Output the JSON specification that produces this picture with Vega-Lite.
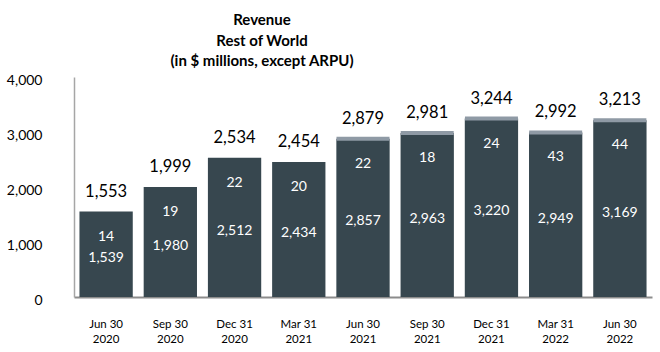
{
  "$schema": "https://vega.github.io/schema/vega-lite/v6.json",
  "width": 578,
  "height": 220,
  "autosize": {"type": "none"},
  "padding": {"left": 74, "top": 77, "right": 8, "bottom": 55},
  "config": {"font": "Lato", "view": {"stroke": null}},
  "title": {
    "text": ["Revenue", "Rest of World", "(in $ millions, except ARPU)"],
    "font": "Lato",
    "fontSize": 15,
    "fontWeight": "bold",
    "lineHeight": 20.5,
    "anchor": "middle",
    "frame": "group",
    "dx": -101,
    "offset": 4,
    "color": "#000000"
  },
  "data": {
    "values": [
      {"q": "Jun 30|2020", "big": 1539, "small": 14, "total": 1553, "cap": false},
      {"q": "Sep 30|2020", "big": 1980, "small": 19, "total": 1999, "cap": false},
      {"q": "Dec 31|2020", "big": 2512, "small": 22, "total": 2534, "cap": false},
      {"q": "Mar 31|2021", "big": 2434, "small": 20, "total": 2454, "cap": false},
      {"q": "Jun 30|2021", "big": 2857, "small": 22, "total": 2879, "cap": true},
      {"q": "Sep 30|2021", "big": 2963, "small": 18, "total": 2981, "cap": true},
      {"q": "Dec 31|2021", "big": 3220, "small": 24, "total": 3244, "cap": true},
      {"q": "Mar 31|2022", "big": 2949, "small": 43, "total": 2992, "cap": true},
      {"q": "Jun 30|2022", "big": 3169, "small": 44, "total": 3213, "cap": true}
    ]
  },
  "encoding": {
    "x": {
      "field": "q",
      "type": "nominal",
      "sort": null,
      "scale": {"paddingInner": 0.17, "paddingOuter": 0.085},
      "axis": {
        "title": null,
        "labelExpr": "split(datum.label, '|')",
        "labelAngle": 0,
        "labelFontSize": 11.5,
        "labelLineHeight": 15,
        "labelPadding": 21,
        "labelColor": "#000000",
        "ticks": false,
        "domainColor": "#8c8c8c",
        "domainWidth": 2
      }
    }
  },
  "layer": [
    {
      "mark": {"type": "bar", "color": "#37474f"},
      "encoding": {
        "y": {
          "field": "total",
          "type": "quantitative",
          "scale": {"domain": [0, 4000], "nice": false},
          "axis": {
            "title": null,
            "values": [0, 1000, 2000, 3000, 4000],
            "labelExpr": "format(datum.value, ',')",
            "grid": false,
            "ticks": false,
            "labelPadding": 32,
            "labelFontSize": 14,
            "labelOffset": 3,
            "labelColor": "#000000",
            "domainColor": "#a6a6a6",
            "domainWidth": 1.5
          }
        }
      }
    },
    {
      "transform": [{"filter": "datum.cap"}],
      "mark": {"type": "tick", "color": "#8f9aa5", "thickness": 4, "size": 53, "opacity": 1},
      "encoding": {
        "y": {"field": "total", "type": "quantitative", "scale": {"domain": [0, 4000], "nice": false}, "axis": null}
      }
    },
    {
      "mark": {"type": "text", "fontSize": 16.5, "color": "#000000", "dy": -20, "baseline": "middle"},
      "encoding": {
        "y": {"field": "total", "type": "quantitative", "scale": {"domain": [0, 4000], "nice": false}, "axis": null},
        "text": {"field": "total", "type": "quantitative", "format": ","}
      }
    },
    {
      "mark": {"type": "text", "fontSize": 14, "color": "#ffffff", "dy": 25, "baseline": "middle"},
      "encoding": {
        "y": {"field": "total", "type": "quantitative", "scale": {"domain": [0, 4000], "nice": false}, "axis": null},
        "text": {"field": "small", "type": "quantitative", "format": ","}
      }
    },
    {
      "mark": {"type": "text", "fontSize": 14, "color": "#ffffff", "dy": 3, "baseline": "middle"},
      "encoding": {
        "y": {"field": "big", "type": "quantitative", "scale": {"domain": [0, 8000], "nice": false}, "axis": null},
        "text": {"field": "big", "type": "quantitative", "format": ","}
      }
    }
  ],
  "resolve": {"scale": {"y": "independent"}}
}
